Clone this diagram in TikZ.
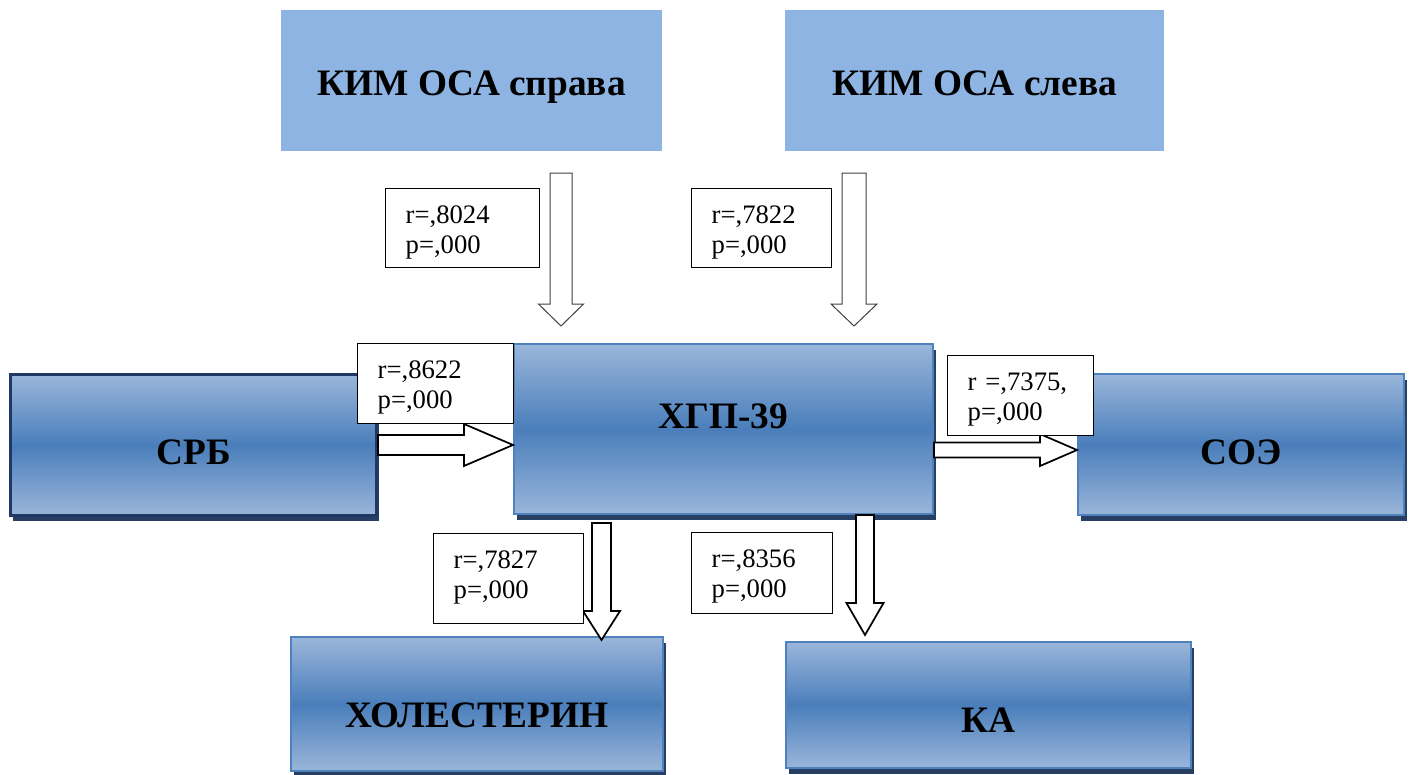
\documentclass[tikz,border=0pt]{standalone}
\usepackage{fontspec}
\setmainfont{Liberation Serif}
\usetikzlibrary{calc,shadows}
\definecolor{kimfill}{HTML}{8DB4E2}
\definecolor{gtop}{HTML}{9AB6DA}
\definecolor{gmid}{HTML}{4A7EBB}
\definecolor{gedge}{HTML}{4F81BD}
\definecolor{shadc}{HTML}{263F63}
\definecolor{srbedge}{HTML}{1F3864}
\definecolor{thinarrow}{HTML}{404040}

% vertical block arrow: style, start, tip, shaft half width, head half width, head length (pt)
\newcommand\downblk[6]{%
  \draw[#1] let \p1=(#2), \p2=(#3) in
    (\x1-#4pt,\y1) -- (\x1+#4pt,\y1) -- (\x1+#4pt,\y2+#6pt) -- (\x1+#5pt,\y2+#6pt)
    -- (\x2,\y2) -- (\x1-#5pt,\y2+#6pt) -- (\x1-#4pt,\y2+#6pt) -- cycle;}
% horizontal block arrow (to the right)
\newcommand\rightblk[6]{%
  \draw[#1] let \p1=(#2), \p2=(#3) in
    (\x1,\y1+#4pt) -- (\x2-#6pt,\y1+#4pt) -- (\x2-#6pt,\y1+#5pt)
    -- (\x2,\y2) -- (\x2-#6pt,\y1-#5pt) -- (\x2-#6pt,\y1-#4pt) -- (\x1,\y1-#4pt) -- cycle;}

\begin{document}
\begin{tikzpicture}[x=0.75pt,y=-0.75pt,
  kim/.style={fill=kimfill, inner sep=0pt, anchor=north west,
    font=\fontsize{28}{32}\selectfont\bfseries},
  gbox/.style={draw=gedge, line width=1.5pt, top color=gtop, bottom color=gtop,
    middle color=gmid, inner sep=0pt, anchor=north west,
    font=\fontsize{28}{32}\selectfont\bfseries,
    drop shadow={shadow xshift=2.25pt, shadow yshift=-4.5pt, fill=shadc, opacity=1}},
  srbbox/.style={gbox, draw=srbedge, line width=2.2pt},
  lbl/.style={draw=black, line width=1pt, fill=white, anchor=north west,
    inner xsep=15pt, inner ysep=0pt, align=left, text height=26.25pt,
    font=\fontsize{20}{22.5}\selectfont},
  tarrow/.style={draw=thinarrow, line width=0.75pt, fill=white, line join=miter},
  barrow/.style={draw=black, line width=1.3pt, fill=white, line join=miter}]
\useasboundingbox (0,0) rectangle (1412,774);

% top boxes
\node[kim, minimum width=285.75pt, text height=63.75pt, text depth=42pt] (ksp) at (281,10) {КИМ ОСА справа};
\node[kim, minimum width=284.25pt, text height=63.75pt, text depth=42pt] (ksl) at (785,10) {КИМ ОСА слева};

% gradient boxes
\node[gbox, minimum width=314.25pt, text height=63pt, text depth=64.5pt] (xgp) at (513,343) {ХГП-39};
\node[srbbox, minimum width=274.5pt, text height=67.5pt, text depth=38.25pt] (srb) at (9,373) {СРБ};
\node[gbox, minimum width=244.5pt, text height=67.5pt, text depth=38.25pt] (soe) at (1077,373) {СОЭ};
\node[gbox, minimum width=279pt, text height=67.5pt, text depth=33pt] (hol) at (290,636) {ХОЛЕСТЕРИН};
\node[gbox, minimum width=303.75pt, text height=67.5pt, text depth=27pt] (ka) at (785,641) {КА};

% arrow end points
\coordinate (a1s) at (561,173);
\coordinate (a1t) at (561,326);
\coordinate (a2s) at (854,173);
\coordinate (a2t) at (854,326);
\coordinate (a3s) at (srb.east);
\coordinate (a3t) at (srb.east -| xgp.west);
\coordinate (a4s) at (xgp.east |- 0,450);
\coordinate (a4t) at (soe.west |- a4s);
\coordinate (a5s) at (601.5,523);
\coordinate (a5t) at (601.5,640);
\coordinate (a6s) at (xgp.south -| 865,0);
\coordinate (a6t) at (865,635);

\downblk{tarrow}{a1s}{a1t}{8.25}{16.9}{16.5}
\downblk{tarrow}{a2s}{a2t}{9}{17.25}{16.5}
\rightblk{barrow}{a3s}{a3t}{7.5}{15.75}{36.75}
\rightblk{barrow}{a4s}{a4t}{5.6}{12}{27.75}
\downblk{barrow}{a5s}{a5t}{7.1}{13.9}{21.75}
\downblk{barrow}{a6s}{a6t}{6.75}{13.9}{24}

% correlation labels
\node[lbl, text width=85.5pt, text depth=33pt] (l1) at (385,188) {r=,8024\\p=,000};
\node[lbl, text width=75pt, text depth=33pt] (l2) at (691,188) {r=,7822\\p=,000};
\node[lbl, text width=87pt, text depth=33.75pt] (l3) at (357,343) {r=,8622\\p=,000};
\node[lbl, text width=79.5pt, text depth=33.75pt] (l4) at (947,355) {r =,7375,\\p=,000};
\node[lbl, text width=82.5pt, text depth=41.25pt] (l5) at (433,533) {r=,7827\\p=,000};
\node[lbl, text width=75.75pt, text depth=34.5pt] (l6) at (691,532) {r=,8356\\p=,000};
\end{tikzpicture}
\end{document}
